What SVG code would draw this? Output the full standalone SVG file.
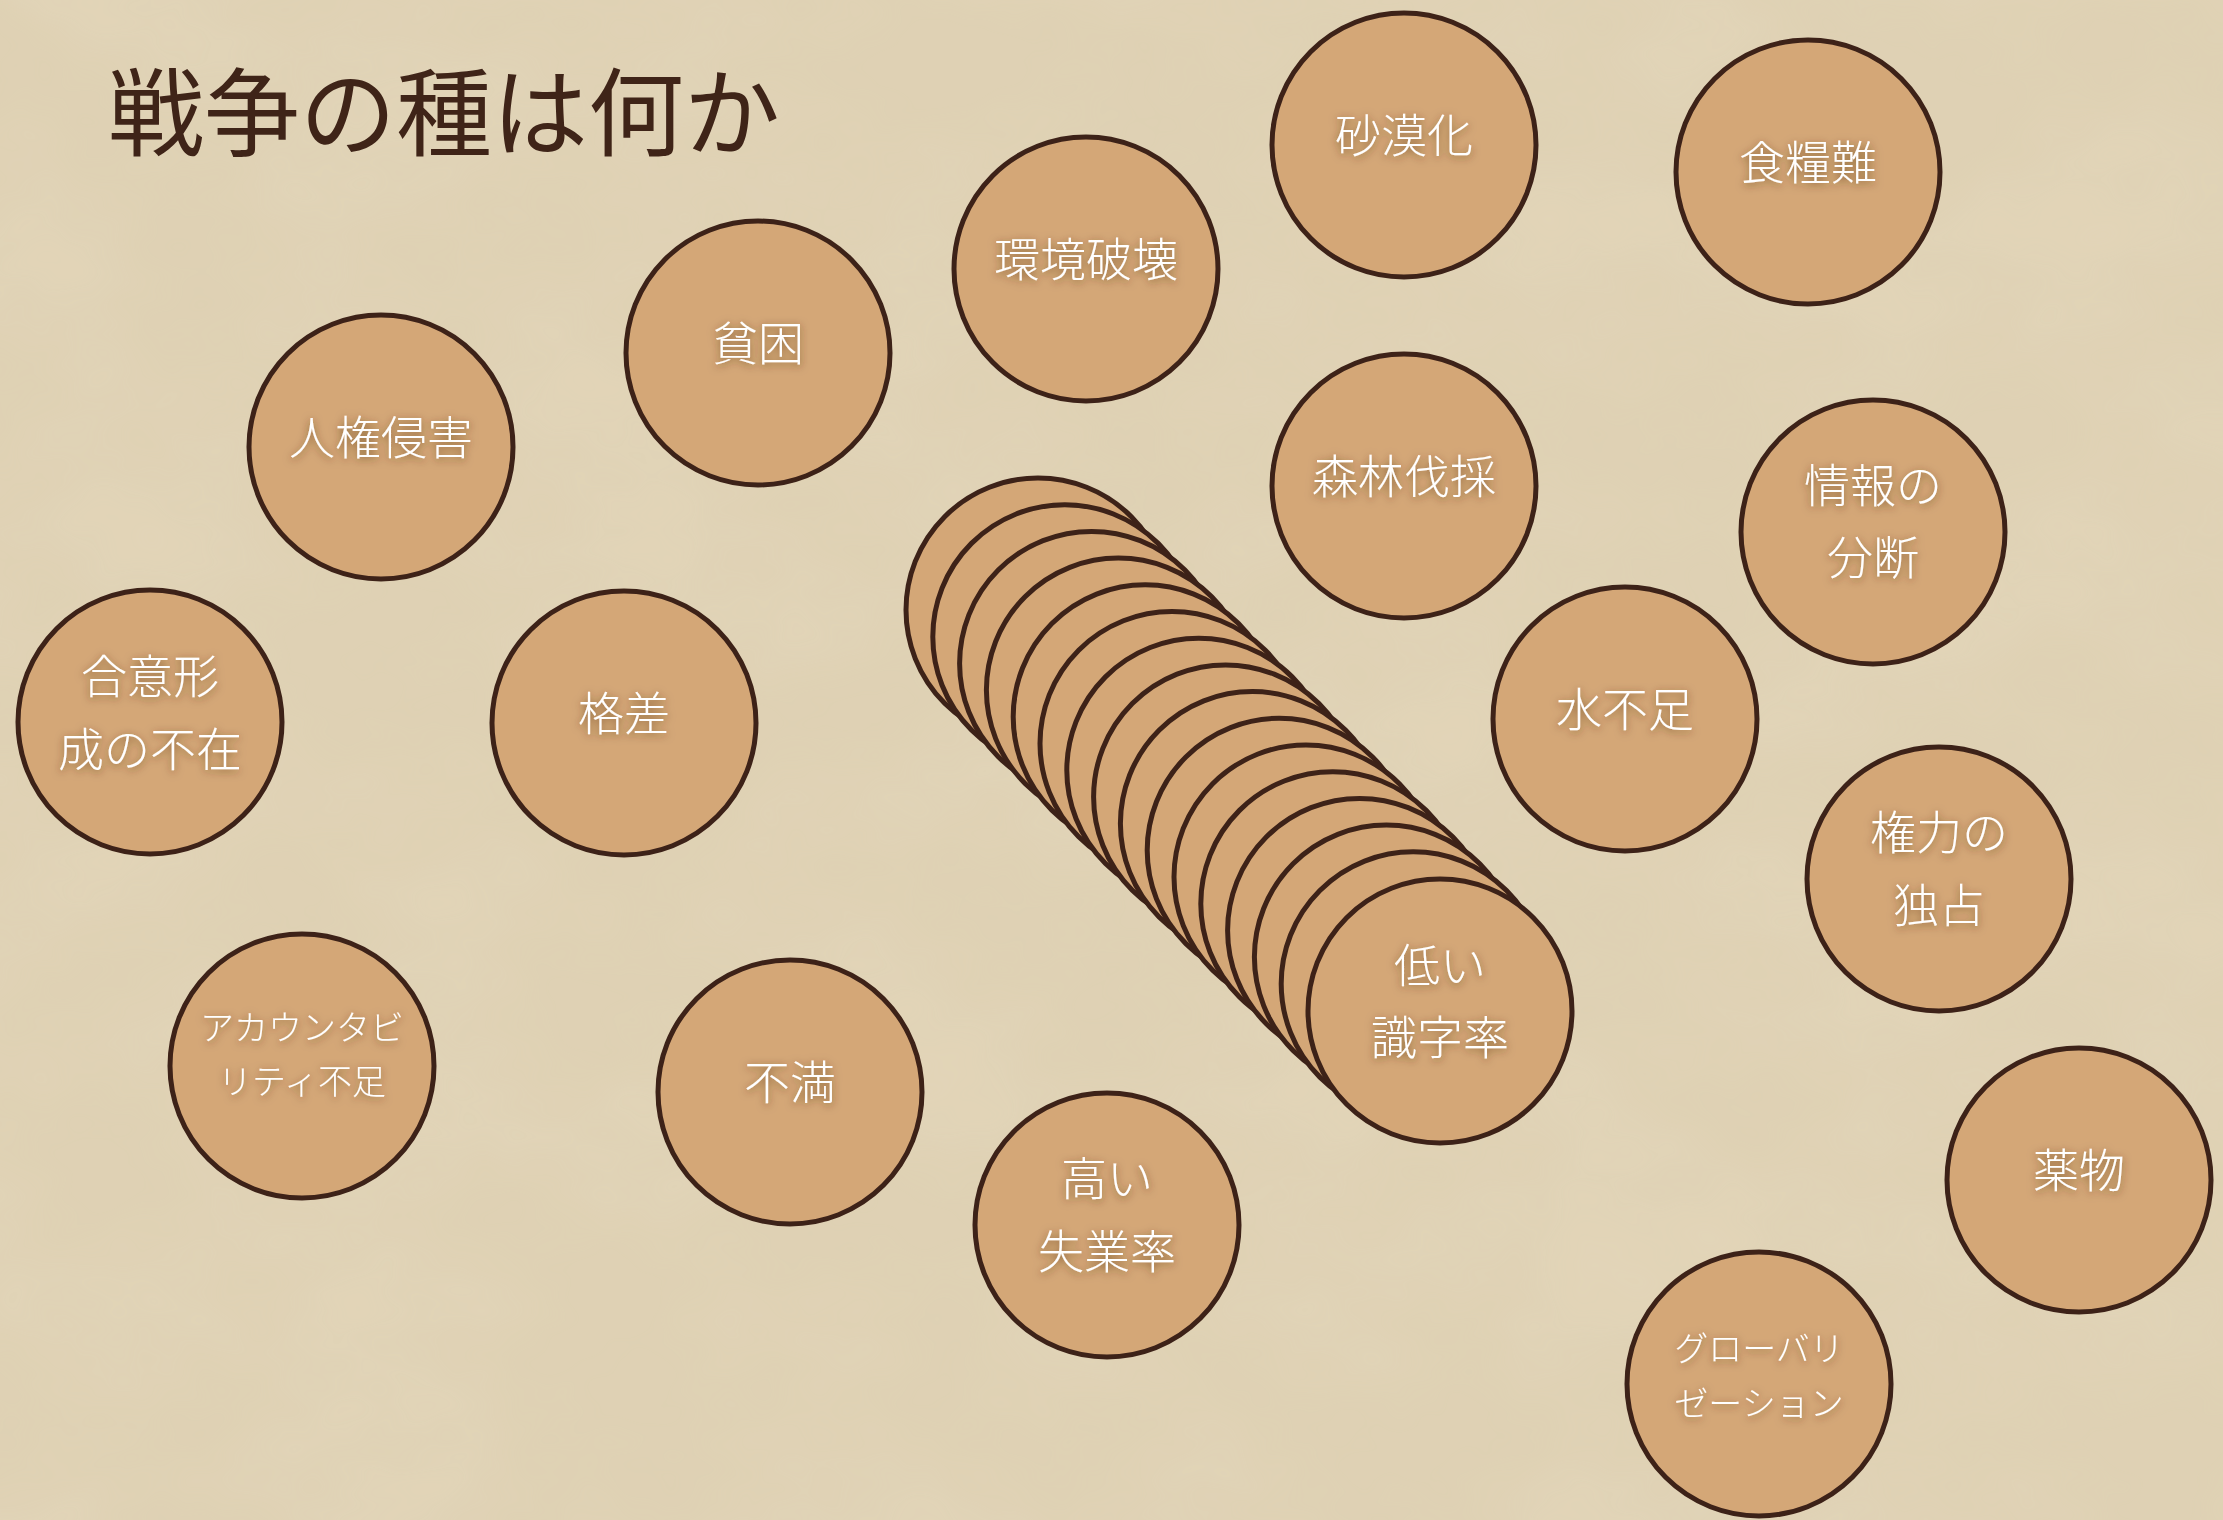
<svg xmlns="http://www.w3.org/2000/svg" width="2223" height="1520" viewBox="0 0 2223 1520">
  <defs>
    <filter id="paper" x="0" y="0" width="100%" height="100%">
      <feTurbulence type="fractalNoise" baseFrequency="0.004 0.006" numOctaves="4" seed="7" result="n"/>
      <feColorMatrix in="n" type="matrix" values="0 0 0 0 0.78  0 0 0 0 0.68  0 0 0 0 0.50  0 0 0 0.9 -0.25" result="c"/>
      <feComposite in="c" in2="SourceGraphic" operator="in" result="m"/>
      <feMerge><feMergeNode in="SourceGraphic"/><feMergeNode in="m"/></feMerge>
    </filter>
    <filter id="shadow" x="-20%" y="-40%" width="140%" height="180%">
      <feDropShadow dx="0" dy="2" stdDeviation="4" flood-color="#4a2a14" flood-opacity="0.6"/>
    </filter>
    <style>
      .coin { fill: #d4a777; stroke: #3d2218; stroke-width: 5; }
      .lbl { font-family: "Noto Sans CJK JP", "Noto Sans", sans-serif; font-weight: 300; font-size: 46px; fill: #ffffff; text-anchor: middle; dominant-baseline: central; filter: url(#shadow); }
      .sm { font-size: 34px; }
      .title { font-family: "Noto Sans CJK JP", "Noto Sans", sans-serif; font-weight: 400; font-size: 96px; fill: #3f2418; }
    </style>
  </defs>

  <rect x="0" y="0" width="2223" height="1520" fill="#dfd1b4" filter="url(#paper)"/>

  <text class="title" x="108" y="148">戦争の種は何か</text>

  <g id="connectors"></g>

  <g id="n-jinken"><circle class="coin" cx="381" cy="447" r="132"/><text class="lbl" x="381" y="434">人権侵害</text></g>
  <g id="n-hinkon"><circle class="coin" cx="758" cy="353" r="132"/><text class="lbl" x="758" y="340">貧困</text></g>
  <g id="n-kankyo"><circle class="coin" cx="1086" cy="269" r="132"/><text class="lbl" x="1086" y="256">環境破壊</text></g>
  <g id="n-sabaku"><circle class="coin" cx="1404" cy="145" r="132"/><text class="lbl" x="1404" y="132">砂漠化</text></g>
  <g id="n-shokuryo"><circle class="coin" cx="1808" cy="172" r="132"/><text class="lbl" x="1808" y="159">食糧難</text></g>
  <g id="n-shinrin"><circle class="coin" cx="1404" cy="486" r="132"/><text class="lbl" x="1404" y="473">森林伐採</text></g>
  <g id="n-joho"><circle class="coin" cx="1873" cy="532" r="132"/><text class="lbl" x="1873" y="482">情報の</text><text class="lbl" x="1873" y="554">分断</text></g>
  <g id="n-goi"><circle class="coin" cx="150" cy="722" r="132"/><text class="lbl" x="150" y="673">合意形</text><text class="lbl" x="150" y="746">成の不在</text></g>
  <g id="n-kakusa"><circle class="coin" cx="624" cy="723" r="132"/><text class="lbl" x="624" y="710">格差</text></g>
  <g id="n-mizu"><circle class="coin" cx="1625" cy="719" r="132"/><text class="lbl" x="1625" y="706">水不足</text></g>
  <g id="n-kenryoku"><circle class="coin" cx="1939" cy="879" r="132"/><text class="lbl" x="1939" y="829">権力の</text><text class="lbl" x="1939" y="902">独占</text></g>
  <g id="n-account"><circle class="coin" cx="302" cy="1066" r="132"/><text class="lbl sm" x="302" y="1025">アカウンタビ</text><text class="lbl sm" x="302" y="1079">リティ不足</text></g>
  <g id="n-fuman"><circle class="coin" cx="790" cy="1092" r="132"/><text class="lbl" x="790" y="1079">不満</text></g>
  <g id="n-shitsugyo"><circle class="coin" cx="1107" cy="1225" r="132"/><text class="lbl" x="1107" y="1175">高い</text><text class="lbl" x="1107" y="1248">失業率</text></g>
  <g id="n-yakubutsu"><circle class="coin" cx="2079" cy="1180" r="132"/><text class="lbl" x="2079" y="1167">薬物</text></g>
  <g id="n-global"><circle class="coin" cx="1759" cy="1384" r="132"/><text class="lbl sm" x="1759" y="1346">グローバリ</text><text class="lbl sm" x="1759" y="1401">ゼーション</text></g>

  <g id="n-shikiji">
    <circle class="coin" cx="1038" cy="610" r="132"/>
    <circle class="coin" cx="1064.8" cy="636.7" r="132"/>
    <circle class="coin" cx="1091.6" cy="663.4" r="132"/>
    <circle class="coin" cx="1118.4" cy="690.1" r="132"/>
    <circle class="coin" cx="1145.2" cy="716.8" r="132"/>
    <circle class="coin" cx="1172" cy="743.5" r="132"/>
    <circle class="coin" cx="1198.8" cy="770.2" r="132"/>
    <circle class="coin" cx="1225.6" cy="796.9" r="132"/>
    <circle class="coin" cx="1252.4" cy="823.6" r="132"/>
    <circle class="coin" cx="1279.2" cy="850.3" r="132"/>
    <circle class="coin" cx="1306" cy="877" r="132"/>
    <circle class="coin" cx="1332.8" cy="903.7" r="132"/>
    <circle class="coin" cx="1359.6" cy="930.4" r="132"/>
    <circle class="coin" cx="1386.4" cy="957.1" r="132"/>
    <circle class="coin" cx="1413.2" cy="983.8" r="132"/>
    <circle class="coin" cx="1440" cy="1011" r="132"/>
    <text class="lbl" x="1440" y="962">低い</text>
    <text class="lbl" x="1440" y="1034">識字率</text>
  </g>
</svg>
